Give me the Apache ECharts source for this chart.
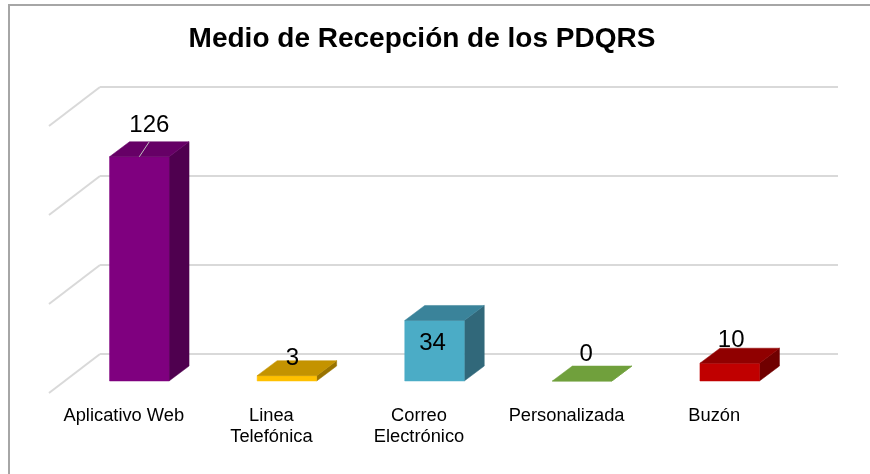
<!DOCTYPE html>
<html><head><meta charset="utf-8">
<style>html,body{margin:0;padding:0;background:#fff}#c{width:870px;height:474px}</style>
<script src="https://cdn.jsdelivr.net/npm/echarts@6/dist/echarts.min.js"></script>
</head><body><div id="c"></div>
<script>
const categories = ['Aplicativo Web', 'Linea\nTelefónica', 'Correo\nElectrónico', 'Personalizada', 'Buzón'];
const values = [126, 3, 34, 0, 10];
const axisTicks = [0, 50, 100, 150];
const frontColors = ['#7f007f', '#ffc000', '#4bacc6', '#70a03c', '#c00000'];
const topColors = ['#660066', '#c49300', '#3a839a', '#70a03c', '#900000'];
const sideColors = ['#4f004f', '#997300', '#31687a', '#70a03c', '#700000'];
const labelShift = [[10, -31], [5.5, -17], [-2, 23], [4, -27], [1.5, -23]];

const barW = 59.5, frontDx = -34.5, frontDy = 27, depthX = 20, depthY = -15, wallX = -51, wallY = 39;

function poly(points, fill) {
  return { type: 'polygon', shape: { points }, style: { fill, stroke: fill, lineWidth: 0.5 } };
}
function renderBar(params, api) {
  const i = api.value(0), v = api.value(1);
  const base = api.coord([i, 0]), top = api.coord([i, v]);
  const l = base[0] + frontDx - barW / 2, r = l + barW;
  const yb = base[1] + frontDy, yt = top[1] + frontDy;
  const children = [
    poly([[r, yt], [r + depthX, yt + depthY], [r + depthX, yb + depthY], [r, yb]], sideColors[i]),
    poly([[l, yb], [r, yb], [r, yt], [l, yt]], frontColors[i]),
    poly([[l, yt], [l + depthX, yt + depthY], [r + depthX, yt + depthY], [r, yt]], topColors[i])
  ];
  const cx = (l + r) / 2;
  if (i === 0) {
    children.push({ type: 'line', shape: { x1: cx, y1: yt, x2: cx + 10, y2: yt + depthY },
      style: { stroke: '#bfbfbf', lineWidth: 1 } });
  }
  children.push({ type: 'text', z2: 10, style: { text: String(v), x: cx + labelShift[i][0], y: yt + labelShift[i][1],
    align: 'center', verticalAlign: 'middle', fill: '#000', font: '24px "Liberation Sans", Arial, sans-serif' } });
  return { type: 'group', children };
}
function renderWall(params, api) {
  const p = api.coord([0, api.value(1)]);
  const x = p[0] - api.size([1, 0])[0] / 2;
  return { type: 'line', shape: { x1: x, y1: p[1], x2: x + wallX, y2: p[1] + wallY },
    style: { stroke: '#d9d9d9', lineWidth: 2 } };
}

const chart = echarts.init(document.getElementById('c'), null, { renderer: 'canvas' });
chart.setOption({
  animation: false,
  backgroundColor: '#fff',
  title: {
    text: 'Medio de Recepción de los PDQRS', left: 417, top: 20, textAlign: 'center',
    textStyle: { fontFamily: '"Liberation Sans", Arial, sans-serif', fontWeight: 'bold', fontSize: 28, color: '#000' }
  },
  grid: { left: 100, right: 32, top: 87, height: 267, containLabel: false },
  xAxis: {
    type: 'category', data: categories,
    axisLine: { show: false }, axisTick: { show: false },
    axisLabel: { margin: 51, padding: [0, 100, 0, 0], fontFamily: '"Liberation Sans", Arial, sans-serif', fontSize: 18.3, lineHeight: 21, color: '#000', interval: 0 }
  },
  yAxis: {
    type: 'value', min: 0, max: 150, interval: 50,
    axisLine: { show: false }, axisTick: { show: false }, axisLabel: { show: false },
    splitLine: { lineStyle: { color: '#d9d9d9', width: 2 } }
  },
  series: [
    { type: 'custom', renderItem: renderWall, data: axisTicks.map(t => [0, t]), encode: { x: 0, y: 1 }, silent: true, clip: false, z: 1 },
    { type: 'custom', renderItem: renderBar, data: values.map((v, i) => [i, v]), encode: { x: 0, y: 1 }, clip: false, z: 2 }
  ],
  graphic: [
    { type: 'line', shape: { x1: 8, y1: 5, x2: 870, y2: 5 }, style: { stroke: '#a6a6a6', lineWidth: 2 } },
    { type: 'line', shape: { x1: 9, y1: 5, x2: 9, y2: 474 }, style: { stroke: '#a6a6a6', lineWidth: 2 } }
  ]
});
</script></body></html>
